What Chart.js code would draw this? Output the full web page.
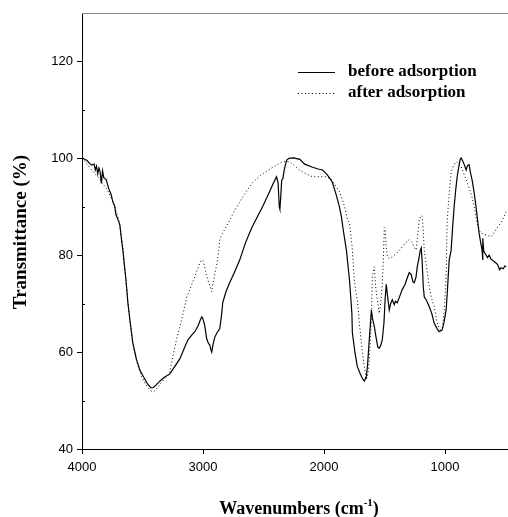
<!DOCTYPE html>
<html>
<head>
<meta charset="utf-8">
<script src="https://cdn.jsdelivr.net/npm/chart.js@4/dist/chart.umd.min.js"></script>
<style>
html,body{margin:0;padding:0;background:#fff;}
#wrap{width:508px;height:517px;position:relative;}
</style>
</head>
<body>
<div id="wrap"><canvas id="c" width="508" height="517"></canvas></div>
<script>
// ---- Data ----
const seriesNames = ['before adsorption', 'after adsorption'];

const wnBefore = [4000,3980,3960,3940,3920,3900,3890,3880,3870,3860,3850,3840,3830,3820,3800,3780,3760,3745,3730,3720,3700,3687,3675,3662,3650,3637,3621,3600,3580,3550,3522,3490,3460,3430,3410,3385,3357,3320,3274,3240,3192,3160,3126,3090,3068,3040,3020,3010,3000,2986,2970,2955,2945,2935,2928,2918,2904,2885,2862,2850,2837,2810,2780,2740,2697,2650,2600,2550,2508,2460,2420,2393,2380,2370,2365,2358,2350,2340,2330,2310,2290,2250,2200,2160,2100,2050,2013,1980,1950,1931,1900,1873,1857,1840,1815,1790,1770,1766,1745,1725,1700,1680,1667,1650,1640,1625,1615,1609,1600,1584,1570,1555,1543,1530,1519,1505,1495,1486,1475,1461,1450,1436,1420,1410,1395,1375,1354,1330,1310,1296,1280,1265,1255,1240,1230,1215,1205,1197,1190,1180,1172,1150,1131,1110,1090,1065,1049,1024,1010,991,980,966,950,937,925,912,900,885,875,867,855,840,826,815,801,790,777,760,744,730,719,705,694,690,687,680,665,650,636,620,600,579,565,550,538,520,505,496];
const tBefore = [100.2,99.8,99.6,99.0,98.6,98.8,97.6,98.4,96.8,98.0,97.2,94.8,97.4,96.0,95.6,93.8,92.6,91.0,90.2,88.4,87.2,86.2,83.5,81.0,78.0,75.0,70.2,65.8,61.9,58.5,56.3,54.8,53.5,52.6,52.7,53.3,54.0,54.8,55.5,56.8,58.6,60.5,62.5,63.6,64.2,65.5,66.8,67.3,66.8,65.5,62.8,61.8,61.5,60.5,60.0,61.5,63.0,64.0,64.8,67.0,70.2,72.5,74.3,76.5,79.0,82.5,85.5,88.0,90.0,92.6,94.8,96.2,95.0,90.0,89.5,92.0,95.5,95.8,97.5,99.6,100.0,100.1,99.8,98.8,98.2,97.8,97.6,96.8,95.8,95.0,92.5,90.0,88.0,85.0,81.0,75.0,68.0,64.0,60.0,57.0,55.5,54.4,54.0,55.0,57.5,63.0,66.5,68.7,67.0,65.2,63.0,61.0,60.8,61.5,62.5,66.0,71.0,74.0,71.5,68.7,70.0,70.8,69.8,70.5,70.2,71.5,72.9,74.0,75.5,76.4,76.0,74.5,74.3,75.5,77.6,79.5,81.0,81.5,79.0,73.5,71.4,70.5,69.4,68.0,66.0,64.8,64.2,64.6,66.0,68.7,73.0,79.0,81.0,86.0,90.0,93.5,96.2,98.5,99.8,100.1,99.5,98.6,97.6,98.5,98.7,97.0,95.6,93.0,90.0,87.0,84.6,82.5,81.0,79.0,83.5,80.8,80.2,79.5,80.0,79.2,78.8,78.4,78.0,77.0,77.4,77.2,77.8,77.6];

const wnAfter = [4000,3980,3960,3940,3920,3900,3880,3860,3840,3820,3800,3780,3760,3745,3730,3710,3690,3675,3660,3645,3630,3615,3600,3580,3550,3520,3490,3460,3430,3410,3390,3360,3320,3290,3274,3250,3220,3192,3160,3134,3100,3068,3040,3020,3002,2990,2975,2961,2945,2935,2928,2915,2900,2887,2870,2862,2840,2821,2780,2722,2660,2590,2520,2434,2380,2343,2285,2250,2203,2150,2096,2040,1980,1940,1898,1870,1848,1825,1807,1790,1775,1766,1750,1738,1725,1710,1692,1670,1650,1638,1626,1615,1609,1601,1584,1577,1568,1555,1543,1530,1519,1510,1502,1495,1487,1477,1460,1445,1420,1395,1360,1330,1296,1270,1250,1239,1225,1214,1200,1189,1180,1172,1150,1131,1110,1090,1065,1045,1032,1020,1007,991,983,970,950,930,909,890,867,845,826,800,777,755,736,720,703,680,661,640,620,600,579,560,538,515,496];
const tAfter = [100.0,99.6,98.8,98.2,97.6,97.0,96.5,96.0,95.2,94.5,93.8,93.0,91.8,91.2,90.0,88.5,86.5,84.0,81.0,77.0,73.0,69.0,65.5,61.8,58.2,55.8,54.0,52.8,52.0,51.8,52.2,53.2,54.4,55.2,56.0,59.0,62.5,65.2,68.5,71.4,73.5,75.6,77.5,78.8,79.0,78.0,76.2,75.0,73.8,73.0,72.5,74.5,76.5,78.0,81.0,83.2,84.5,85.3,87.2,90.0,92.5,95.0,96.6,98.0,98.8,99.3,99.3,98.6,97.6,96.8,96.2,96.2,96.2,95.6,94.1,93.0,91.5,89.5,87.3,86.7,83.5,81.0,75.0,72.5,70.8,66.5,61.9,57.5,54.3,55.5,58.4,63.5,66.7,75.6,77.6,74.5,72.2,70.0,68.0,70.5,74.0,79.0,85.7,85.5,82.0,79.7,79.3,79.5,80.0,80.5,81.5,82.5,83.2,82.5,81.4,81.1,84.5,87.3,88.2,88.0,85.0,81.0,77.0,73.5,71.0,69.4,66.0,64.8,64.2,65.5,68.7,75.6,86.7,91.5,97.0,98.5,99.3,99.0,98.3,96.8,95.6,93.8,92.0,89.5,86.7,85.2,84.6,84.3,84.2,84.0,83.8,84.5,85.3,86.0,86.7,87.8,89.0];

const xTickValues = [4000, 3000, 2000, 1000];
const yTickValues = [40, 60, 80, 100, 120];
const yMinorTicks = [50, 70, 90, 110];
const xTitle = 'Wavenumbers (cm';
const xTitleSup = '-1';
const xTitleEnd = ')';
const yTitle = 'Transmittance (%)';

function pts(xs, ys){ return xs.map((x,i)=>({x:x, y:ys[i]})); }

const decor = {
  id: 'decor',
  afterDraw(chart){
    const ctx = chart.ctx, a = chart.chartArea;
    const ys = chart.scales.y;
    ctx.save();
    // top frame line (gray)
    ctx.strokeStyle = '#8c8c8c';
    ctx.lineWidth = 1;
    ctx.beginPath();
    ctx.moveTo(a.left, a.top + 0.5);
    ctx.lineTo(a.right, a.top + 0.5);
    ctx.stroke();
    // minor y ticks inside
    ctx.strokeStyle = '#000';
    yMinorTicks.forEach(v => {
      const y = Math.round(ys.getPixelForValue(v)) + 0.5;
      ctx.beginPath();
      ctx.moveTo(a.left, y);
      ctx.lineTo(a.left + 3, y);
      ctx.stroke();
    });
    // legend
    ctx.fillStyle = '#000';
    ctx.font = 'bold 17px "Liberation Serif", "Times New Roman", serif';
    ctx.textBaseline = 'middle';
    ctx.textAlign = 'left';
    ctx.lineWidth = 1.2;
    ctx.setLineDash([]);
    ctx.beginPath(); ctx.moveTo(298, 72.5); ctx.lineTo(335, 72.5); ctx.stroke();
    ctx.fillText(seriesNames[0], 348, 72);
    ctx.lineWidth = 1;
    ctx.setLineDash([1, 2.5]);
    ctx.beginPath(); ctx.moveTo(298, 93.5); ctx.lineTo(335, 93.5); ctx.stroke();
    ctx.setLineDash([]);
    ctx.fillText(seriesNames[1], 348, 93);
    // x title with superscript
    ctx.textBaseline = 'alphabetic';
    const f1 = 'bold 18px "Liberation Serif", "Times New Roman", serif';
    const f2 = 'bold 11px "Liberation Serif", "Times New Roman", serif';
    ctx.font = f1; const w1 = ctx.measureText(xTitle).width; const w3 = ctx.measureText(xTitleEnd).width;
    ctx.font = f2; const w2 = ctx.measureText(xTitleSup).width;
    const total = w1 + w2 + w3;
    let x0 = 299 - total / 2;
    const base = 514;
    ctx.font = f1; ctx.fillText(xTitle, x0, base);
    ctx.font = f2; ctx.fillText(xTitleSup, x0 + w1, base - 8);
    ctx.font = f1; ctx.fillText(xTitleEnd, x0 + w1 + w2, base);
    // y title
    ctx.translate(26, 232);
    ctx.rotate(-Math.PI / 2);
    ctx.textAlign = 'center';
    ctx.font = 'bold 19px "Liberation Serif", "Times New Roman", serif';
    ctx.fillText(yTitle, 0, 0);
    ctx.restore();
  }
};

new Chart(document.getElementById('c'), {
  type: 'line',
  data: {
    datasets: [
      { label: seriesNames[0], data: pts(wnBefore, tBefore), borderColor: '#000', borderWidth: 1.2,
        pointRadius: 0, tension: 0, fill: false },
      { label: seriesNames[1], data: pts(wnAfter, tAfter), borderColor: '#000', borderWidth: 1,
        borderDash: [1, 2.5], pointRadius: 0, tension: 0, fill: false }
    ]
  },
  options: {
    responsive: false,
    animation: false,
    devicePixelRatio: 1,
    layout: { padding: { top: 13, right: 0, left: 0, bottom: 0 } },
    plugins: { legend: { display: false }, tooltip: { enabled: false } },
    scales: {
      x: {
        type: 'linear', reverse: true, min: 480, max: 4000,
        afterBuildTicks: s => { s.ticks = xTickValues.map(v => ({ value: v })); },
        afterFit: s => { s.height = 68; },
        grid: { drawOnChartArea: false, drawTicks: true, tickLength: 5, color: '#000' },
        border: { color: '#000', width: 1 },
        ticks: { color: '#000', font: { family: '"Liberation Sans", Arial, sans-serif', size: 13 }, padding: 6,
                 maxRotation: 0, autoSkip: false, callback: v => String(v) }
      },
      y: {
        min: 40, max: 130,
        afterBuildTicks: s => { s.ticks = yTickValues.map(v => ({ value: v })); },
        afterFit: s => { s.width = 82; },
        grid: { drawOnChartArea: false, drawTicks: true, tickLength: 5, color: '#000' },
        border: { color: '#000', width: 1 },
        ticks: { color: '#000', font: { family: '"Liberation Sans", Arial, sans-serif', size: 13 }, padding: 4,
                 callback: v => String(v) }
      }
    }
  },
  plugins: [decor]
});
</script>
</body>
</html>
